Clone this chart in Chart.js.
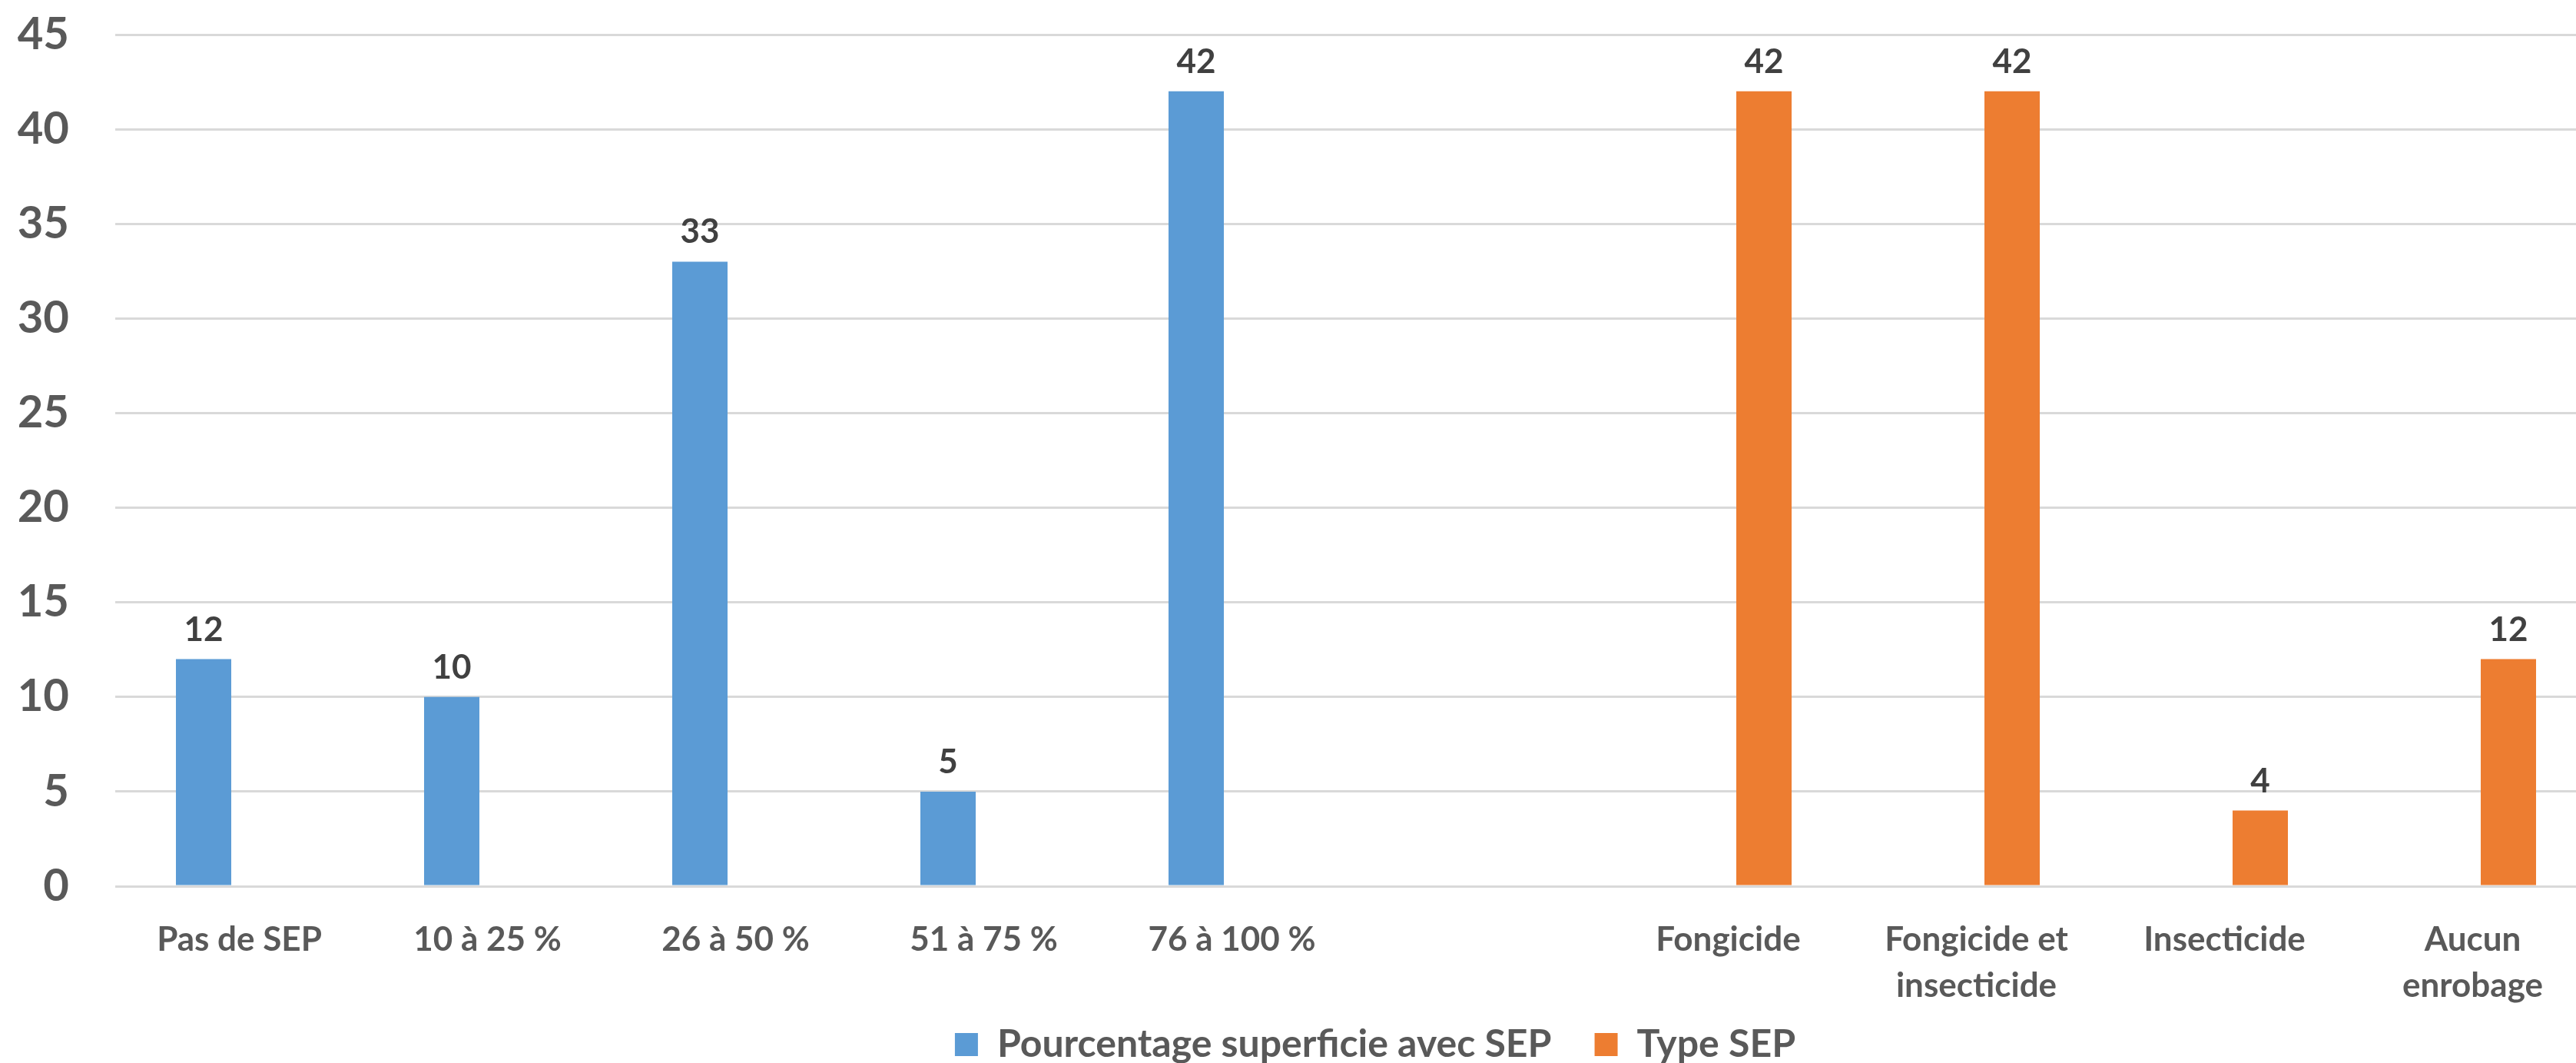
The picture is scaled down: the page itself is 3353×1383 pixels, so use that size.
<!DOCTYPE html>
<html lang="fr">
<head>
<meta charset="UTF-8">
<title>Semences enrobées (SEP)</title>
<script src="https://cdn.jsdelivr.net/npm/chart.js"></script>
<style>
  html, body { margin: 0; padding: 0; background: #fff; overflow: hidden; }
  #wrap { width: 3390px; height: 1383px; }
</style>
</head>
<body>
<div id="wrap"><canvas id="chart"></canvas></div>
<script>
// Catégories : la catégorie vide sépare les deux groupes
const categories = ["Pas de SEP", "10 à 25 %", "26 à 50 %", "51 à 75 %", "76 à 100 %", "",
    "Fongicide", ["Fongicide et", "insecticide"], "Insecticide", ["Aucun", "enrobage"]];
const pourcentageSEP = [12, 10, 33, 5, 42, null, null, null, null, null];
const typeSEP = [null, null, null, null, null, null, 42, 42, 4, 12];
const seriesNames = ["Pourcentage superficie avec SEP", "Type SEP"];
const yMin = 0, yMax = 45, yStep = 5;

Chart.defaults.font.family = 'Lato, "Open Sans", sans-serif';
Chart.defaults.font.weight = 'bold';

// Valeurs au-dessus des barres
const valeursPlugin = {
    id: 'valeurs',
    afterDatasetsDraw(chart) {
        const ctx = chart.ctx;
        ctx.save();
        ctx.font = 'bold 44px Lato, "Open Sans", sans-serif';
        ctx.fillStyle = '#404040';
        ctx.textAlign = 'center';
        ctx.textBaseline = 'alphabetic';
        chart.data.datasets.forEach((ds, i) => {
            chart.getDatasetMeta(i).data.forEach((bar, j) => {
                if (ds.data[j] == null) return;
                ctx.fillText(ds.data[j], bar.x, bar.y - 24);
            });
        });
        ctx.restore();
    }
};

// légende un peu décalée vers la droite, étiquettes x sur deux lignes non coupées
const ajustements = {
    id: 'ajustements',
    afterLayout(chart) {
        chart.legend.left += 25;
        chart.legend.right += 25;
        chart.scales.x.bottom += 40;
    }
};

new Chart(document.getElementById("chart"), {
    type: "bar",
    data: {
        labels: categories,
        datasets: [{
            label: seriesNames[0],
            data: pourcentageSEP,
            backgroundColor: "#5B9BD5",
            categoryPercentage: 0.576,
            barPercentage: 0.774
        }, {
            label: seriesNames[1],
            data: typeSEP,
            backgroundColor: "#ED7D31",
            categoryPercentage: 0.576,
            barPercentage: 0.774
        }]
    },
    options: {
        responsive: true,
        maintainAspectRatio: false,
        animation: false,
        layout: { padding: { left: 0, right: 10, top: 45, bottom: -11 } },
        plugins: {
            tooltip: { enabled: false },
            legend: {
                position: "bottom",
                fullSize: false,
                labels: {
                    boxWidth: 30,
                    boxHeight: 30,
                    padding: 56,
                    color: "#595959",
                    font: { size: 50, weight: "bold" }
                }
            }
        },
        scales: {
            x: {
                grid: { display: false },
                border: { display: false },
                ticks: {
                    color: "#595959",
                    font: { size: 44, weight: "bold", lineHeight: 1.36 },
                    padding: 32,
                    maxRotation: 0,
                    autoSkip: false
                },
                afterFit(scale) { scale.height = 125; }
            },
            y: {
                min: yMin,
                max: yMax,
                grid: {
                    color: "#d9d9d9",
                    lineWidth: 3,
                    drawTicks: true,
                    tickLength: 60,
                    tickColor: "rgba(0,0,0,0)"
                },
                border: { display: false },
                ticks: {
                    stepSize: yStep,
                    color: "#595959",
                    font: { size: 58, weight: "bold" },
                    padding: 0
                },
                afterFit(scale) { scale.width = 150; }
            }
        }
    },
    plugins: [valeursPlugin, ajustements]
});
</script>
</body>
</html>
